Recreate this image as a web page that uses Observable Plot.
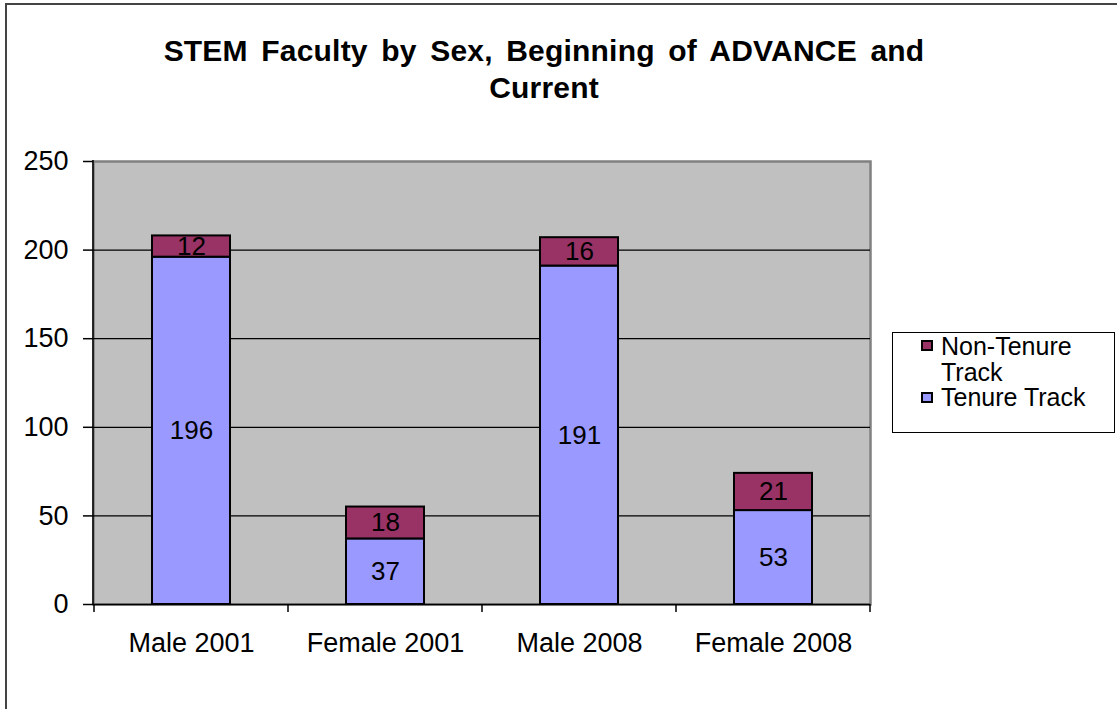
<!DOCTYPE html>
<html>
<head>
<meta charset="utf-8">
<script src="https://cdn.jsdelivr.net/npm/d3@7"></script>
<script src="https://cdn.jsdelivr.net/npm/@observablehq/plot@0.6"></script>
<style>
  body { margin: 0; background: #fff; font-family: "Liberation Sans", Arial, sans-serif; }
  #wrap { position: relative; width: 1117px; height: 709px; overflow: hidden; background: #fff; }
  #border { position: absolute; left: 5px; top: 3px; width: 1300px; height: 900px; border: 2px solid #444; box-sizing: border-box; }
  #chart { position: absolute; left: 0; top: 0; }
  #title { position: absolute; left: 0; top: 32px; width: 1088px; text-align: center; font-weight: bold; font-size: 30px; line-height: 37px; word-spacing: 5px; letter-spacing: 0.2px; color: #000; }
  #legend { position: absolute; left: 892px; top: 332px; width: 223px; height: 101px; box-sizing: border-box; border: 1px solid #000; background: #fff; padding-left: 28px; font-size: 25px; line-height: 25px; color: #000; }
  .item { display: flex; align-items: flex-start; }
  .sw { width: 12px; height: 11px; box-sizing: border-box; border: 2px solid #000; margin-top: 7px; margin-right: 8px; flex: none; }
  .lbl { width: 168px; }
  .item:first-child .lbl { line-height: 26px; }
</style>
</head>
<body>
<div id="wrap">
  <div id="border"></div>
  <div id="chart"></div>
  <div id="title">STEM Faculty by Sex, Beginning of ADVANCE and<br>Current</div>
  <div id="legend"></div>
</div>
<script>
const categories = ["Male 2001", "Female 2001", "Male 2008", "Female 2008"];
const tenureTrack = [196, 37, 191, 53];
const nonTenureTrack = [12, 18, 16, 21];
const seriesNames = ["Tenure Track", "Non-Tenure Track"];
const seriesColors = ["#9999FF", "#993366"];
const yTicks = [0, 50, 100, 150, 200, 250];
const gridValues = [50, 100, 150, 200];

const data = [];
categories.forEach((c, i) => data.push({category: c, series: seriesNames[0], value: tenureTrack[i]}));
categories.forEach((c, i) => data.push({category: c, series: seriesNames[1], value: nonTenureTrack[i]}));

function axisLines(index, scales, values, dims) {
  const x = scales.x;
  const g = d3.create("svg:g").attr("stroke", "#000").attr("stroke-width", 1.5);
  const left = dims.marginLeft, bottom = dims.height - dims.marginBottom, top = dims.marginTop;
  g.append("line").attr("x1", left).attr("x2", left).attr("y1", top - 1).attr("y2", bottom);
  let step = (dims.width - dims.marginLeft - dims.marginRight) / categories.length;
  if (x && typeof x.step === "function") step = x.step();
  let start = left;
  if (x && typeof x.bandwidth === "function") start = x(categories[0]) + x.bandwidth() / 2 - step / 2;
  for (let k = 0; k <= categories.length; k++) {
    const xx = start + k * step;
    g.append("line").attr("x1", xx).attr("x2", xx).attr("y1", bottom).attr("y2", bottom + 8);
  }
  return g.node();
}

const chart = Plot.plot({
  width: 1117,
  height: 709,
  marginLeft: 93,
  marginRight: 247,
  marginTop: 161,
  marginBottom: 105,
  style: {fontFamily: "'Liberation Sans', Arial, sans-serif", fontSize: "27px", color: "#000", background: "transparent", overflow: "visible"},
  x: {domain: categories, paddingInner: 0.6, paddingOuter: 0.3, label: null},
  y: {domain: [0, 250], label: null},
  color: {domain: seriesNames, range: seriesColors},
  marks: [
    Plot.frame({fill: "#C0C0C0", stroke: "#808080", strokeWidth: 2.5}),
    Plot.ruleY(gridValues, {stroke: "#000", strokeWidth: 1.2}),
    Plot.barY(data, Plot.stackY({x: "category", y: "value", fill: "series", stroke: "#000", strokeWidth: 2})),
    Plot.text(data, Plot.stackY({x: "category", y: "value", z: "series", text: "value", fontSize: 26, fill: "#000"})),
    Plot.axisY({ticks: yTicks, tickSize: 10, tickPadding: 15, fontSize: 27, label: null, stroke: "#000", strokeWidth: 1.5}),
    Plot.axisX({tickSize: 0, tickPadding: 28, fontSize: 27, label: null}),
    Plot.ruleY([0], {stroke: "#000", strokeWidth: 1.5}),
    axisLines
  ]
});
document.getElementById("chart").appendChild(chart);

const legend = document.getElementById("legend");
[1, 0].forEach(i => {
  const item = document.createElement("div");
  item.className = "item";
  const sw = document.createElement("div");
  sw.className = "sw";
  sw.style.background = seriesColors[i];
  const lbl = document.createElement("div");
  lbl.className = "lbl";
  lbl.textContent = seriesNames[i];
  item.appendChild(sw);
  item.appendChild(lbl);
  legend.appendChild(item);
});
</script>
</body>
</html>
